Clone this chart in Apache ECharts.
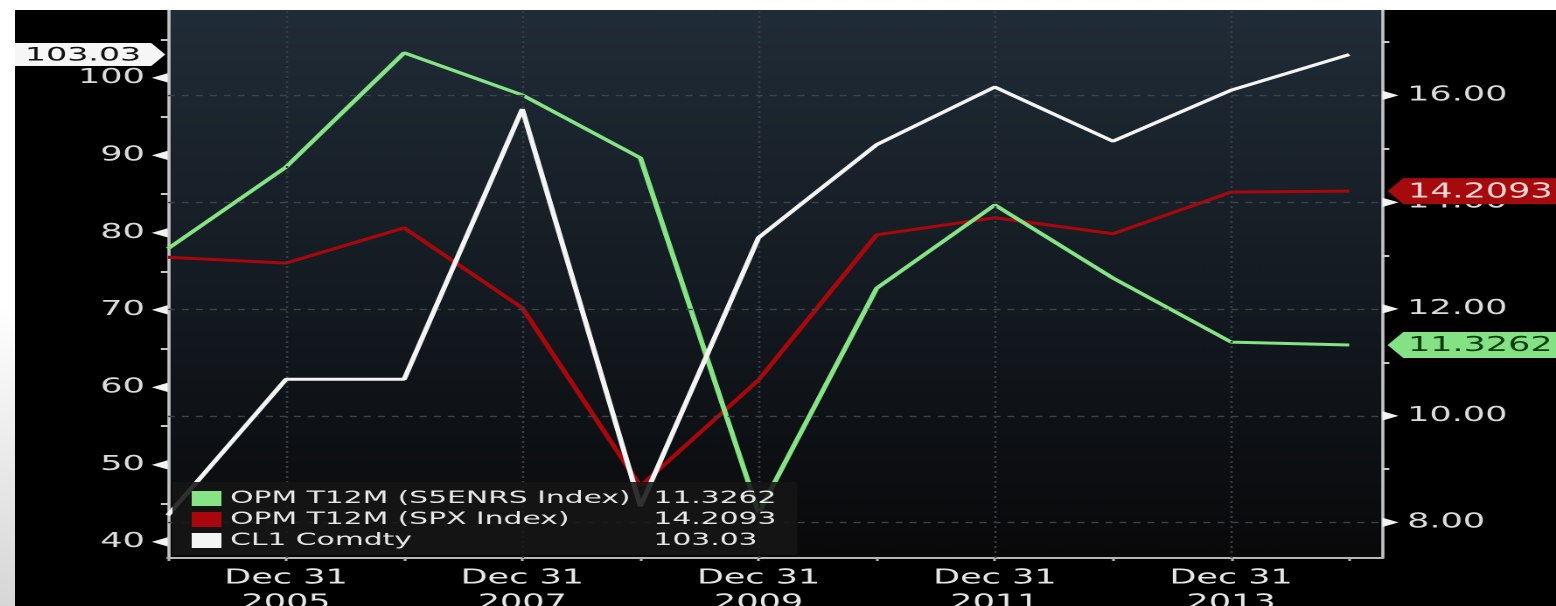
<!DOCTYPE html>
<html>
<head>
<meta charset="utf-8">
<script src="https://cdn.jsdelivr.net/npm/echarts@6/dist/echarts.min.js"></script>
<style>
  html, body { margin: 0; padding: 0; }
  body {
    width: 1556px; height: 606px; overflow: hidden; position: relative;
    background: linear-gradient(to bottom, #ffffff 0%, #ffffff 50%, #d6d6d6 100%);
  }
  #frame {
    position: absolute; left: 15px; top: 10px; width: 1541px; height: 596px;
    background: #000; overflow: hidden;
  }
  #chart {
    position: absolute; left: 0; top: 0; width: 881px; height: 596px;
    transform-origin: 0 0;
  }
</style>
</head>
<body>
<div id="frame"><div id="chart"></div></div>
<script>
// Year-end observations (last point is the latest reading)
const years = [2004, 2005, 2006, 2007, 2008, 2009, 2010, 2011, 2012, 2013, 2014];
const labeledYears = [2005, 2007, 2009, 2011, 2013];

// Operating margin, trailing 12M (right axis)
const energyOpm = [13.13, 14.66, 16.80, 16.01, 14.83, 8.18, 12.39, 13.95, 12.58, 11.38, 11.3262];
const spxOpm = [12.97, 12.86, 13.52, 12.02, 8.68, 10.67, 13.39, 13.71, 13.41, 14.19, 14.2093];
// Front-month crude (left axis)
const crudeOil = [43.45, 61.04, 61.05, 95.98, 44.60, 79.36, 91.38, 98.83, 91.82, 98.42, 103.03];

const seriesNames = ['OPM T12M (S5ENRS Index)', 'OPM T12M (SPX Index)', 'CL1 Comdty'];
const leftTickLabels = [40, 50, 60, 70, 80, 90, 100];
const rightTickLabels = [8, 10, 12, 14, 16];

// axis extents
const xMin = 2004, xMax = 2014.28;
const leftMin = 37.93, leftMax = 108.79;
const rightMin = 7.335, rightMax = 17.602;

const GREEN = '#86e486', RED = '#a8080c', WHITE = '#f4f4f4';
const FONT = 'DejaVu Sans';

// the terminal looks wide: stretch the drawing horizontally to fill the frame
const STRETCH = 1541 / 881;
document.getElementById('chart').style.transform = 'scaleX(' + STRETCH + ')';

const last = arr => arr[arr.length - 1];
const pairs = vals => years.map((y, i) => [y, vals[i]]);
const hasTick = (list, v) => list.some(t => Math.abs(t - v) < 1e-6);

const lastValues = {};
lastValues[seriesNames[0]] = String(last(energyOpm));
lastValues[seriesNames[1]] = String(last(spxOpm));
lastValues[seriesNames[2]] = String(last(crudeOil));

// value tags attached to the axes
const rightTag = (value, fill, textColor) => ({
  symbol: 'path://M0,13 L9,0 L100,0 L100,26 L9,26 Z',
  symbolSize: [100, 26],
  symbolKeepAspect: false,
  symbolOffset: [53, 0],
  silent: true,
  itemStyle: { color: fill },
  label: {
    show: true, position: 'inside', offset: [3, 1],
    color: textColor, fontSize: 20, fontFamily: FONT,
    formatter: p => String(p.value)
  },
  data: [{ coord: [xMax, value], value: value }]
});

const chart = echarts.init(document.getElementById('chart'), null, { renderer: 'canvas', devicePixelRatio: 2 });

chart.setOption({
  animation: false,
  backgroundColor: '#000',
  grid: {
    left: 87.4, right: 99.3, top: 0, bottom: 48,
    outerBoundsMode: 'none',
    containLabel: false,
    show: true, borderWidth: 0,
    backgroundColor: new echarts.graphic.LinearGradient(0, 0, 0, 1, [
      { offset: 0, color: '#202c37' },
      { offset: 0.5, color: '#141b22' },
      { offset: 1, color: '#09090a' }
    ])
  },
  legend: {
    orient: 'vertical',
    left: 90, top: 472,
    padding: [8, 12, 6, 11],
    itemGap: 4,
    itemWidth: 17, itemHeight: 15,
    icon: 'rect',
    selectedMode: false,
    z: 10,
    backgroundColor: 'rgba(22,22,22,0.88)',
    data: seriesNames,
    formatter: name => '{n|' + name + '}{v|' + lastValues[name] + '}',
    textStyle: {
      color: '#e8e8e8', fontSize: 17, fontFamily: FONT,
      rich: {
        n: { width: 242, fontSize: 17, lineHeight: 20, fontFamily: FONT, color: '#e8e8e8' },
        v: { fontSize: 17, lineHeight: 20, fontFamily: FONT, color: '#e8e8e8' }
      }
    }
  },
  xAxis: {
    type: 'value',
    min: xMin, max: xMax, interval: 1,
    axisLine: { show: true, onZero: false, lineStyle: { color: '#b8b8b8', width: 2 } },
    axisTick: { show: true, length: 3, lineStyle: { color: '#b0b0b0', width: 1.6 } },
    splitLine: { show: false },
    axisLabel: {
      show: true, margin: 8, showMaxLabel: false,
      color: '#e6e6e6', fontSize: 20, lineHeight: 25, fontFamily: FONT,
      formatter: v => hasTick(labeledYears, v) ? 'Dec 31\n' + Math.round(v) : ''
    }
  },
  yAxis: [
    {
      type: 'value', position: 'left',
      min: leftMin, max: leftMax, minInterval: 5, maxInterval: 5, splitNumber: 14,
      axisLine: { show: true, onZero: false, lineStyle: { color: '#c4c4c4', width: 1.8 } },
      axisTick: { show: true, length: 4, lineStyle: { color: '#c8c8c8', width: 2 } },
      splitLine: { show: false },
      axisLabel: {
        show: true, margin: 0, showMinLabel: false, showMaxLabel: false,
        formatter: v => hasTick(leftTickLabels, v) ? '{n|' + Math.round(v) + '}{g|◀}' : '',
        rich: {
          n: { fontSize: 20, fontFamily: FONT, color: '#dcdcdc', padding: [0, 4, 0, 0], verticalAlign: 'middle' },
          g: { fontSize: 12, fontFamily: FONT, color: '#f2f2f2', verticalAlign: 'middle' }
        }
      }
    },
    {
      type: 'value', position: 'right',
      min: rightMin, max: rightMax, minInterval: 1, maxInterval: 1, splitNumber: 10,
      axisLine: { show: true, onZero: false, lineStyle: { color: '#c4c4c4', width: 1.8 } },
      axisTick: { show: true, length: 4, lineStyle: { color: '#c8c8c8', width: 2 } },
      splitLine: { show: false },
      axisLabel: {
        show: true, margin: 0, showMinLabel: false, showMaxLabel: false,
        formatter: v => hasTick(rightTickLabels, v) ? '{g|▶}{n|' + v.toFixed(2) + '}' : '',
        rich: {
          n: { fontSize: 20, fontFamily: FONT, color: '#dcdcdc', padding: [0, 0, 0, 5], verticalAlign: 'middle' },
          g: { fontSize: 12, fontFamily: FONT, color: '#f2f2f2', verticalAlign: 'middle' }
        }
      }
    }
  ],
  series: [
    {
      name: seriesNames[1], type: 'line', yAxisIndex: 1, clip: false,
      data: pairs(spxOpm), showSymbol: false, symbol: 'none',
      color: RED, lineStyle: { color: RED, width: 3 },
      markLine: {
        silent: true, symbol: ['none', 'none'], label: { show: false },
        data: rightTickLabels.map(v => ({ yAxis: v, lineStyle: { type: [4, 4], color: '#3b4249', width: 1.4 } }))
          .concat(labeledYears.map(y => ({ xAxis: y, lineStyle: { type: [2, 3], color: '#363c43', width: 1.3 } })))
      },
      markPoint: rightTag(last(spxOpm), '#a50a0c', '#ffd9d9'),
      z: 3
    },
    {
      name: seriesNames[0], type: 'line', yAxisIndex: 1, clip: false,
      data: pairs(energyOpm), showSymbol: false, symbol: 'none',
      color: GREEN, lineStyle: { color: GREEN, width: 3 },
      markPoint: rightTag(last(energyOpm), '#84e284', '#0b3a0b'),
      z: 4
    },
    {
      name: seriesNames[2], type: 'line', yAxisIndex: 0, clip: false,
      data: pairs(crudeOil), showSymbol: false, symbol: 'none',
      color: WHITE, lineStyle: { color: WHITE, width: 3 },
      markPoint: {
        symbol: 'path://M0,0 L78,0 L86,11.5 L78,23 L0,23 Z',
        symbolSize: [86, 23],
        symbolKeepAspect: false,
        symbolOffset: [-44.5, 0],
        silent: true,
        itemStyle: { color: '#f6f6f6' },
        label: {
          show: true, position: 'inside', offset: [-4, 1],
          color: '#111', fontSize: 19, fontFamily: FONT,
          formatter: p => String(p.value)
        },
        data: [{ coord: [xMin, last(crudeOil)], value: last(crudeOil) }]
      },
      z: 5
    }
  ]
});
</script>
</body>
</html>
